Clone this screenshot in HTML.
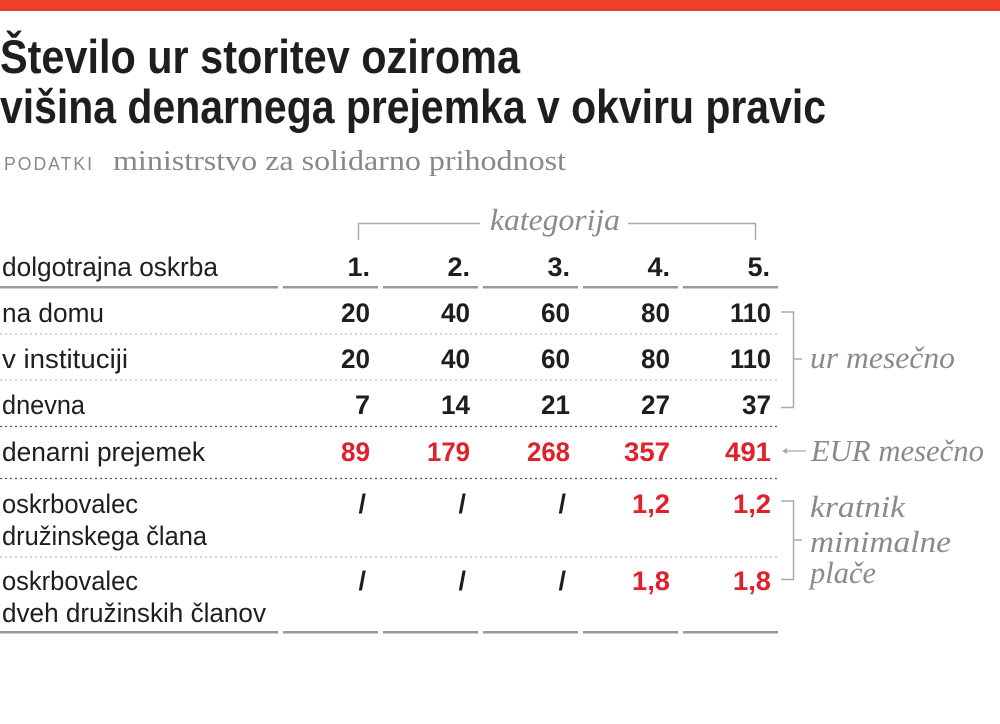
<!DOCTYPE html>
<html><head><meta charset="utf-8"><style>
html,body{margin:0;padding:0;background:#fff;width:1000px;height:724px;overflow:hidden}
svg{display:block}
.t{font-family:"Liberation Sans",sans-serif;fill:#1e1e1e}
.b{font-weight:bold}
.n{font-family:"Liberation Sans",sans-serif;font-weight:bold;font-size:27px;fill:#1e1e1e;text-anchor:end}
.r{fill:#e0202a}
.s{font-family:"Liberation Serif",serif;font-style:italic;fill:#8a8a8a;font-size:31px}
</style></head><body>
<svg width="1000" height="724" viewBox="0 0 1000 724">
<rect x="0" y="0" width="1000" height="11" fill="#ee4026"/>
<text class="t b" x="0" y="73" font-size="47" textLength="520" lengthAdjust="spacingAndGlyphs">Število ur storitev oziroma</text>
<text class="t b" x="0" y="123" font-size="47" textLength="826" lengthAdjust="spacingAndGlyphs">višina denarnega prejemka v okviru pravic</text>
<text x="4" y="170" font-family="Liberation Sans,sans-serif" font-size="18" fill="#888" letter-spacing="2" textLength="90" lengthAdjust="spacingAndGlyphs">PODATKI</text>
<text x="113" y="170" font-family="Liberation Serif,serif" font-size="28" fill="#888" textLength="453" lengthAdjust="spacingAndGlyphs">ministrstvo za solidarno prihodnost</text>

<path d="M358.5 240 V223.5 H480 M628 223.5 H755.5 V240" stroke="#aaa" stroke-width="1.5" fill="none"/>
<text class="s" x="490" y="230" textLength="130" lengthAdjust="spacingAndGlyphs">kategorija</text>

<g font-size="27">
<text class="t" x="2" y="276" textLength="216" lengthAdjust="spacingAndGlyphs">dolgotrajna oskrba</text>
<text class="n" x="370" y="276">1.</text>
<text class="n" x="470" y="276">2.</text>
<text class="n" x="570" y="276">3.</text>
<text class="n" x="670" y="276">4.</text>
<text class="n" x="770" y="276">5.</text>
</g>
<g fill="#999">
<rect x="0" y="286" width="278" height="2.5"/><rect x="283" y="286" width="95" height="2.5"/><rect x="383" y="286" width="95" height="2.5"/><rect x="483" y="286" width="95" height="2.5"/><rect x="583" y="286" width="95" height="2.5"/><rect x="683" y="286" width="95" height="2.5"/>
<rect x="0" y="631" width="278" height="2.5"/><rect x="283" y="631" width="95" height="2.5"/><rect x="383" y="631" width="95" height="2.5"/><rect x="483" y="631" width="95" height="2.5"/><rect x="583" y="631" width="95" height="2.5"/><rect x="683" y="631" width="95" height="2.5"/>
</g>
<g stroke-dasharray="2 3" stroke-width="1.3" fill="none">
<path d="M0 334 H778 M0 380 H778 M0 557 H778" stroke="#bbb"/>
<path d="M0 426.5 H778 M0 478.5 H778" stroke="#555"/>
</g>

<g font-size="27">
<text class="t" x="2" y="322" textLength="102" lengthAdjust="spacingAndGlyphs">na domu</text>
<text class="t" x="2" y="368" textLength="126" lengthAdjust="spacingAndGlyphs">v instituciji</text>
<text class="t" x="2" y="414" textLength="83" lengthAdjust="spacingAndGlyphs">dnevna</text>
<text class="t" x="2" y="461" textLength="203" lengthAdjust="spacingAndGlyphs">denarni prejemek</text>
<text class="t" x="2" y="513" textLength="136" lengthAdjust="spacingAndGlyphs">oskrbovalec</text>
<text class="t" x="2" y="545" textLength="205" lengthAdjust="spacingAndGlyphs">družinskega člana</text>
<text class="t" x="2" y="590" textLength="136" lengthAdjust="spacingAndGlyphs">oskrbovalec</text>
<text class="t" x="2" y="622" textLength="264" lengthAdjust="spacingAndGlyphs">dveh družinskih članov</text>
</g>

<g>
<text class="n" x="370" y="322" textLength="29" lengthAdjust="spacingAndGlyphs">20</text><text class="n" x="470" y="322" textLength="29" lengthAdjust="spacingAndGlyphs">40</text><text class="n" x="570" y="322" textLength="29" lengthAdjust="spacingAndGlyphs">60</text><text class="n" x="670" y="322" textLength="29" lengthAdjust="spacingAndGlyphs">80</text><text class="n" x="771" y="322" textLength="41" lengthAdjust="spacingAndGlyphs">110</text>
<text class="n" x="370" y="368" textLength="29" lengthAdjust="spacingAndGlyphs">20</text><text class="n" x="470" y="368" textLength="29" lengthAdjust="spacingAndGlyphs">40</text><text class="n" x="570" y="368" textLength="29" lengthAdjust="spacingAndGlyphs">60</text><text class="n" x="670" y="368" textLength="29" lengthAdjust="spacingAndGlyphs">80</text><text class="n" x="771" y="368" textLength="41" lengthAdjust="spacingAndGlyphs">110</text>
<text class="n" x="370" y="414">7</text><text class="n" x="470" y="414" textLength="29" lengthAdjust="spacingAndGlyphs">14</text><text class="n" x="570" y="414" textLength="29" lengthAdjust="spacingAndGlyphs">21</text><text class="n" x="670" y="414" textLength="29" lengthAdjust="spacingAndGlyphs">27</text><text class="n" x="771" y="414" textLength="29" lengthAdjust="spacingAndGlyphs">37</text>
<text class="n r" x="370" y="461" textLength="29" lengthAdjust="spacingAndGlyphs">89</text><text class="n r" x="470" y="461" textLength="43" lengthAdjust="spacingAndGlyphs">179</text><text class="n r" x="570" y="461" textLength="43" lengthAdjust="spacingAndGlyphs">268</text><text class="n r" x="670" y="461" textLength="46" lengthAdjust="spacingAndGlyphs">357</text><text class="n r" x="771" y="461" textLength="46" lengthAdjust="spacingAndGlyphs">491</text>
<text class="n" x="366" y="513">/</text><text class="n" x="466" y="513">/</text><text class="n" x="566" y="513">/</text><text class="n r" x="670" y="513" textLength="38" lengthAdjust="spacingAndGlyphs">1,2</text><text class="n r" x="771" y="513" textLength="38" lengthAdjust="spacingAndGlyphs">1,2</text>
<text class="n" x="366" y="590">/</text><text class="n" x="466" y="590">/</text><text class="n" x="566" y="590">/</text><text class="n r" x="670" y="590" textLength="38" lengthAdjust="spacingAndGlyphs">1,8</text><text class="n r" x="771" y="590" textLength="38" lengthAdjust="spacingAndGlyphs">1,8</text>
</g>

<path d="M781 312 H793.5 V407.5 H781 M793.5 359 H802" stroke="#aaa" stroke-width="1.5" fill="none"/>
<text class="s" x="810" y="368" textLength="145" lengthAdjust="spacingAndGlyphs">ur mesečno</text>
<path d="M786 451 H806" stroke="#aaa" stroke-width="1.3"/>
<path d="M782 451 l5 -3 v6 z" fill="#aaa"/>
<text class="s" x="811" y="461" textLength="173" lengthAdjust="spacingAndGlyphs">EUR mesečno</text>
<path d="M781 501 H793.5 V579.5 H781 M793.5 540 H802" stroke="#aaa" stroke-width="1.5" fill="none"/>
<text class="s" x="810" y="517" textLength="95" lengthAdjust="spacingAndGlyphs">kratnik</text>
<text class="s" x="810" y="552" textLength="141" lengthAdjust="spacingAndGlyphs">minimalne</text>
<text class="s" x="810" y="583" textLength="66" lengthAdjust="spacingAndGlyphs">plače</text>
</svg>
</body></html>
